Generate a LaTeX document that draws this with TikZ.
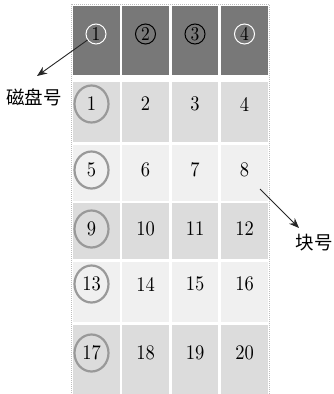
\documentclass[tikz,border=0pt]{standalone}
\usepackage{fontspec}
\setmainfont{lmroman10-regular.otf}
\newfontfamily\cjk{Noto Sans CJK SC}
\usetikzlibrary{arrows.meta,shapes.geometric}
\definecolor{hdr}{HTML}{787878}
\definecolor{dk}{HTML}{DCDCDC}
\definecolor{lt}{HTML}{F0F0F0}
\definecolor{ringc}{HTML}{999999}
\definecolor{framec}{HTML}{BDBDBD}
\newcommand{\stretchnum}[1]{\scalebox{1}[1.12]{#1}}
\begin{document}
\begin{tikzpicture}[x=1pt,y=-1pt,
  cell/.style={inner sep=0pt, outer sep=0pt, anchor=north west, draw=none},
  num/.style={font=\fontsize{18.5}{22}\selectfont, inner sep=0pt},
  rowring/.style={ellipse, draw=ringc, line width=2.2pt, minimum width=34pt, minimum height=37pt, inner sep=0pt, font=\fontsize{18.5}{22}\selectfont},
  hring/.style={circle, line width=1pt, minimum size=20pt, inner sep=0pt, font=\fontsize{17.5}{20}\selectfont},
  pointer/.style={-{Stealth[length=10pt,width=8pt]}, line width=0.9pt, draw=black!85},
  lbl/.style={font=\cjk\fontsize{18.5}{21}\selectfont, inner sep=0pt}]
\useasboundingbox (0,0) rectangle (334,394);
% frame
\draw[framec, line width=0.8pt, dash pattern=on 1pt off 1pt] (71,4) rectangle (269,394);
% cells
\foreach \r/\y/\h/\col in {0/6/69/hdr, 1/82/60/dk, 2/145/56/lt, 3/203/56/dk, 4/262/60/lt, 5/325/70/dk}{
  \foreach \c/\x/\w in {1/73/47, 2/122/47, 3/172/46, 4/221/47}{
    \node[cell, fill=\col, minimum width=\w pt, minimum height=\h pt] (c-\r-\c) at (\x,\y) {};
  }
}
% header circled numbers
\node[hring, draw=white] (h1) at (96,34) {\stretchnum{1}};
\node[hring, draw=black] (h2) at (145.5,34) {\stretchnum{2}};
\node[hring, draw=black] (h3) at (195,34) {\stretchnum{3}};
\node[hring, draw=white] (h4) at (244.5,34) {\stretchnum{4}};
% row numbers
\foreach \r/\y in {1/104, 2/170, 3/229, 4/284, 5/353}{
  \pgfmathtruncatemacro{\a}{(\r-1)*4+1}
  \pgfmathtruncatemacro{\b}{(\r-1)*4+2}
  \pgfmathtruncatemacro{\cc}{(\r-1)*4+3}
  \pgfmathtruncatemacro{\d}{(\r-1)*4+4}
  \node[rowring] (n-\r-1) at (91.5,\y) {\stretchnum{\a}};
  \node[num] (n-\r-2) at (145.5,\y) {\stretchnum{\b}};
  \node[num] (n-\r-3) at (195,\y) {\stretchnum{\cc}};
  \node[num] (n-\r-4) at (244.5,\y) {\stretchnum{\d}};
}
% labels and pointers
\node[lbl] (disk) at (34,97) {磁盘号};
\coordinate (disktip) at (37,76);
\draw[pointer] (h1) -- (disktip);
\node[lbl] (blk) at (314,243) {块号};
\coordinate (blkstart) at (260,189);
\coordinate (blktip) at (299,228);
\draw[pointer] (blkstart) -- (blktip);
\end{tikzpicture}
\end{document}
